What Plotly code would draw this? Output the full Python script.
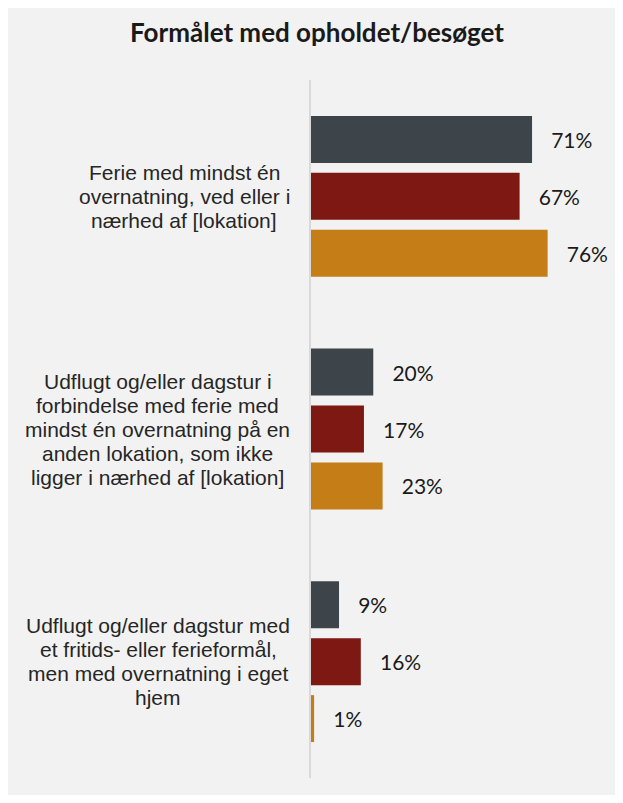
import plotly.graph_objects as go

# ---- data ----
categories = [
    ["Ferie med mindst én", "overnatning, ved eller i", "nærhed af [lokation]"],
    ["Udflugt og/eller dagstur i", "forbindelse med ferie med", "mindst én overnatning på en",
     "anden lokation, som ikke", "ligger i nærhed af [lokation]"],
    ["Udflugt og/eller dagstur med", "et fritids- eller ferieformål,", "men med overnatning i eget",
     "hjem"],
]
series_names = ["Serie 1", "Serie 2", "Serie 3"]
series_values = [
    [71, 20, 9],
    [67, 17, 16],
    [76, 23, 1],
]
colors = ["#3d444a", "#7d1812", "#c47d17"]
title = "Formålet med opholdet/besøget"

cat_keys = [" ".join(c) for c in categories]

# ---- layout constants (page pixels; page body has an 8px margin) ----
OFF = 8
PAGE_W, PAGE_H = 623, 803
W, H = PAGE_W - OFF, PAGE_H - 2 * OFF
ML = 311 - OFF
MT = 80 - OFF
MB = H - (778 - OFF)
MR = W - (613 - OFF)
plot_w = W - ML - MR
plot_h = H - MT - MB
label_centers_px = [184, 157.5, 158]  # page x of each label block centre
line_step = 24

fig = go.Figure()
for name, vals, col in zip(series_names, series_values, colors):
    fig.add_trace(go.Bar(
        y=cat_keys, x=vals, orientation="h", name=name,
        marker=dict(color=col, line=dict(width=0)),
        text=[f"{v}%" for v in vals],
        texttemplate="\u00a0\u00a0\u00a0%{text}",
        textposition="outside", constraintext="none", cliponaxis=False,
        textfont=dict(family="Lato", size=21, color="#1a1a1a"),
        hoverinfo="skip",
    ))

annotations = []
for key, lines, cpx in zip(cat_keys, categories, label_centers_px):
    n = len(lines)
    for i, ln in enumerate(lines):
        annotations.append(dict(
            text=ln, xref="paper", yref="y", x=0, y=key,
            xanchor="center", yanchor="middle",
            xshift=cpx - 311, yshift=((n - 1) / 2 - i) * line_step,
            showarrow=False,
            font=dict(family="Liberation Sans, Arial", size=21, color="#262626"),
        ))

fig.update_layout(
    width=W, height=H,
    margin=dict(l=ML, r=MR, t=MT, b=MB, pad=0),
    paper_bgcolor="#f2f2f2", plot_bgcolor="rgba(0,0,0,0)",
    barmode="group", bargap=0.266, bargroupgap=0.175,
    showlegend=False,
    title=dict(text="<b>" + title + "</b>", xref="container", yref="container",
               x=(317 - OFF) / W, y=1 - (33 - OFF) / H, xanchor="center", yanchor="middle",
               font=dict(family="Lato", size=26, color="#1a1a1a")),
    xaxis=dict(range=[0, 97], visible=False, fixedrange=True),
    yaxis=dict(autorange="reversed", showticklabels=False, showgrid=False,
               zeroline=False, showline=True, linecolor="#d9d9d9", linewidth=2,
               ticks="", fixedrange=True),
    annotations=annotations,
)

fig.write_html("out.html")
